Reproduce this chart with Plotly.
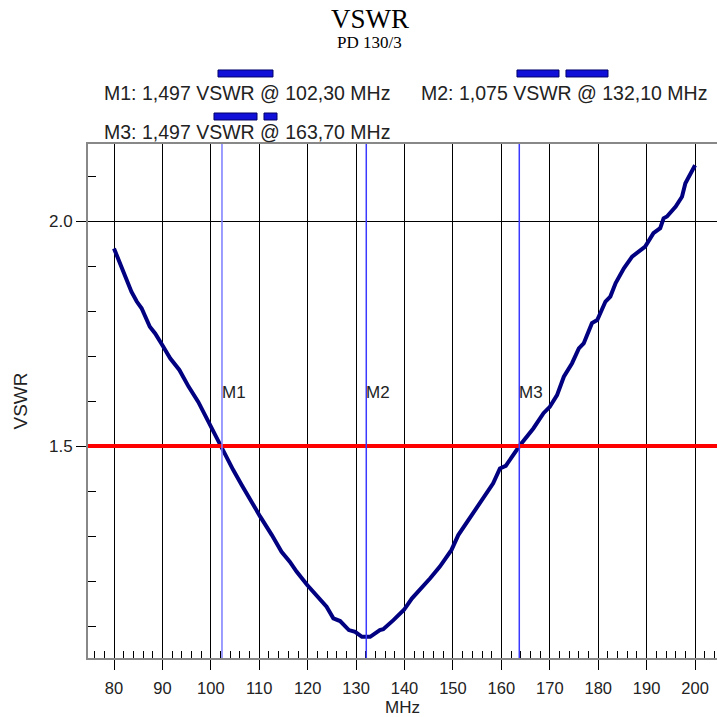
import plotly.graph_objects as go

# ---- data ----
freq_mhz = [80.0, 81.2, 82.6, 83.6, 84.7, 85.7, 87.4, 88.5, 90.0, 91.6, 93.5, 95.4, 97.4, 99.1,
            100.5, 102.2, 104.6, 106.4, 108.1, 110.2, 112.6, 114.6, 116.3, 117.7, 119.9, 122.2,
            123.9, 125.3, 126.7, 128.5, 129.8, 131.2, 132.9, 134.9, 135.6, 137.7, 139.9, 141.5,
            143.2, 145.3, 147.3, 149.7, 151.1, 152.5, 154.6, 156.3, 158.3, 159.7, 160.9, 163.8,
            166.6, 168.7, 170.0, 171.5, 172.9, 174.6, 176.0, 177.0, 178.7, 179.8, 181.5, 182.5,
            183.6, 185.3, 187.0, 189.7, 191.4, 192.8, 193.5, 194.2, 196.0, 197.3, 198.0, 200.0]
vswr = [1.939, 1.906, 1.865, 1.843, 1.821, 1.806, 1.765, 1.750, 1.724, 1.695, 1.669, 1.632, 1.598, 1.562,
        1.536, 1.500, 1.447, 1.413, 1.380, 1.343, 1.302, 1.265, 1.243, 1.221, 1.191, 1.165,
        1.143, 1.117, 1.111, 1.091, 1.087, 1.076, 1.076, 1.091, 1.093, 1.113, 1.136, 1.161,
        1.180, 1.206, 1.232, 1.269, 1.302, 1.324, 1.358, 1.387, 1.417, 1.450, 1.456, 1.501,
        1.539, 1.573, 1.587, 1.613, 1.654, 1.684, 1.717, 1.728, 1.773, 1.780, 1.821, 1.832,
        1.862, 1.895, 1.921, 1.943, 1.973, 1.984, 2.006, 2.010, 2.032, 2.054, 2.084, 2.124]

marker_names = ["M1", "M2", "M3"]
marker_freq = [102.30, 132.10, 163.70]
marker_vswr = [1.497, 1.075, 1.497]
marker_colors = ["#7b7bff", "#3a3aff", "#3a3aff"]
marker_label_y = 1.62
limit_vswr = 1.5

x_range = [74.63, 204.53]
y_range = [1.0289, 2.1711]

title_text = "VSWR"
subtitle_text = "PD 130/3"
x_title = "MHz"
y_title = "VSWR"

SANS = "Liberation Sans, Arial, sans-serif"
SERIF = "Liberation Serif, Times New Roman, serif"

fig = go.Figure()

fig.add_trace(go.Scatter(x=freq_mhz, y=vswr, mode="lines",
                         line=dict(color="#000080", width=4), showlegend=False,
                         hoverinfo="skip"))

# limit line
fig.add_hline(y=limit_vswr, line=dict(color="#ff0000", width=4), layer="above")

# markers
for name, f, c in zip(marker_names, marker_freq, marker_colors):
    fig.add_vline(x=f, line=dict(color=c, width=1.5), layer="above")
    fig.add_annotation(x=f, y=marker_label_y, xref="x", yref="y", text=name,
                       showarrow=False, xanchor="left", yanchor="middle", xshift=-2,
                       font=dict(family=SANS, size=17, color="#222222"))

# header legend text
def fmt(v, d):
    return f"{v:.{d}f}".replace(".", ",")

legend_pos = [(0.0254, 1.0992), (0.5294, 1.0992), (0.0254, 1.0233)]
for (name, f, v), (lx, ly) in zip(zip(marker_names, marker_freq, marker_vswr), legend_pos):
    fig.add_annotation(x=lx, y=ly, xref="paper", yref="paper",
                       text=f"{name}: {fmt(v, 3)} VSWR @ {fmt(f, 2)} MHz",
                       showarrow=False, xanchor="left", yanchor="middle", xshift=-2,
                       font=dict(family=SANS, size=19.5, color="#222222"))

# legend line-style samples
bars = [(0.2067, 0.2941, 1.1372), (0.6820, 0.7488, 1.1372), (0.7599, 0.8267, 1.1372),
        (0.2003, 0.2687, 1.0535), (0.2798, 0.3005, 1.0535)]
for x0, x1, yc in bars:
    fig.add_shape(type="rect", xref="paper", yref="paper", x0=x0, x1=x1,
                  y0=yc - 0.0068, y1=yc + 0.0068,
                  fillcolor="#1010d8", line=dict(color="#00006a", width=1))

# titles
fig.add_annotation(x=0.4483, y=1.2430, xref="paper", yref="paper", text=title_text,
                   showarrow=False, xanchor="center", yanchor="middle",
                   font=dict(family=SERIF, size=27, color="#000000"))
fig.add_annotation(x=0.4483, y=1.1965, xref="paper", yref="paper", text=subtitle_text,
                   showarrow=False, xanchor="center", yanchor="middle",
                   font=dict(family=SERIF, size=17, color="#000000"))

fig.update_layout(
    width=717, height=717,
    margin=dict(l=88, r=0, t=144, b=59),
    paper_bgcolor="white", plot_bgcolor="white",
    showlegend=False,
    font=dict(family=SANS, size=17, color="#222222"),
)

fig.update_xaxes(
    range=x_range, dtick=10, tick0=0,
    showgrid=True, gridcolor="#000000", gridwidth=1,
    zeroline=False,
    showline=True, linecolor="#888888", linewidth=2, mirror=True,
    ticks="outside", ticklen=10, tickcolor="#000000", tickwidth=1,
    ticklabelstandoff=4,
    minor=dict(dtick=2, tick0=0, ticks="inside", ticklen=7, tickcolor="#000000",
               tickwidth=1, showgrid=False),
    tickfont=dict(family=SANS, size=16.5, color="#222222"),
    title=dict(text=x_title, font=dict(family=SANS, size=17, color="#222222"), standoff=5),
)
fig.update_yaxes(
    range=y_range, dtick=0.5, tick0=0, tickformat=".1f",
    showgrid=True, gridcolor="#000000", gridwidth=1,
    zeroline=False,
    showline=True, linecolor="#888888", linewidth=2, mirror=False,
    ticks="outside", ticklen=10, tickcolor="#000000", tickwidth=1,
    minor=dict(dtick=0.1, tick0=0, ticks="inside", ticklen=8, tickcolor="#000000",
               tickwidth=1, showgrid=False),
    tickfont=dict(family=SANS, size=17, color="#222222"),
    title=dict(text=y_title, font=dict(family=SANS, size=19, color="#222222"), standoff=16),
)

fig.write_html("out.html", config={"displayModeBar": False},
               post_script="document.body.style.margin='0';document.body.style.padding='0';")
